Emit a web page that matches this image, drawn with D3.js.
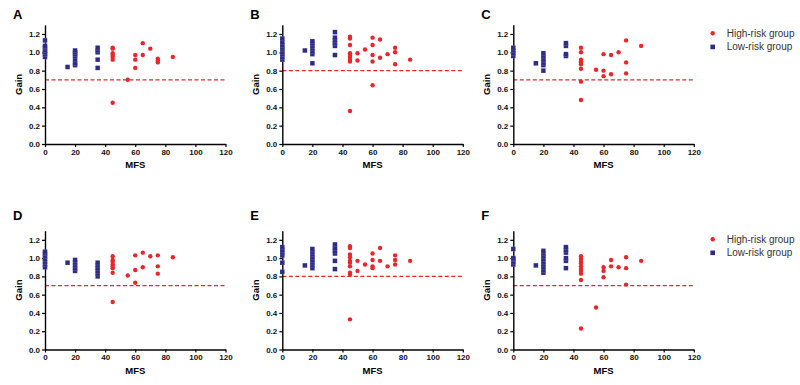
<!DOCTYPE html>
<html>
<head>
<meta charset="utf-8">
<script src="https://cdn.jsdelivr.net/npm/d3@7"></script>
<style>
  body { margin: 0; background: #fff; }
  text { font-family: "Liberation Sans", Arial, sans-serif; }
</style>
</head>
<body>
<div id="chart"></div>
<script>
// Panel letters and the dashed cut-off for each panel.
var panelNames = ["A", "B", "C", "D", "E", "F"];
var cutoffs = [0.7, 0.8, 0.7, 0.7, 0.8, 0.7];
var xTicks = [0, 20, 40, 60, 80, 100, 120];
var yTicks = [0, 0.2, 0.4, 0.6, 0.8, 1.0, 1.2];

// [MFS, Gain] pairs.
var lowA = [[0,0.95],[0,0.98],[0,1.0],[0,1.02],[0,1.05],[0,1.07],[0,1.13],[15,0.84],
  [20,0.86],[20,0.88],[20,0.92],[20,0.96],[20,0.98],[20,1.0],[20,1.02],
  [35,1.0],[35,1.02],[35,1.05],[35,0.92],[35,0.83]];
var highA = [[45,1.05],[45,1.04],[45,0.99],[45,0.97],[45,0.95],[45,0.92],[45,0.45],
  [55,0.70],[60,0.97],[60,0.92],[60,0.83],[65,1.10],[65,0.97],[70,1.04],
  [75,0.93],[75,0.91],[75,0.89],[85,0.95]];

var lowB = [[0,0.92],[0,0.95],[0,0.98],[0,1.0],[0,1.03],[0,1.05],[0,1.08],[0,1.11],[0,1.15],
  [15,1.02],[20,0.98],[20,1.01],[20,1.04],[20,1.07],[20,1.10],[20,1.12],[20,0.88],
  [35,1.07],[35,1.10],[35,1.13],[35,1.16],[35,1.22],[35,0.97]];
var highB = [[45,1.17],[45,1.15],[45,1.08],[45,0.99],[45,0.97],[45,0.95],[45,0.92],[45,0.90],[45,0.36],
  [50,0.99],[50,0.91],[55,1.03],[60,1.16],[60,1.08],[60,0.97],[60,0.90],[60,0.64],
  [65,1.14],[65,0.94],[70,0.98],[75,1.05],[75,1.00],[75,0.87],[85,0.92]];

var lowC = [[0,0.96],[0,0.99],[0,1.02],[0,1.05],[15,0.88],
  [20,0.86],[20,0.88],[20,0.91],[20,0.93],[20,0.96],[20,0.99],[20,0.80],
  [35,1.07],[35,1.10],[35,0.96],[35,0.98]];
var highC = [[45,1.05],[45,1.00],[45,0.92],[45,0.90],[45,0.89],[45,0.87],[45,0.82],[45,0.68],[45,0.48],
  [55,0.81],[60,0.98],[60,0.80],[60,0.74],[65,0.97],[65,0.76],[70,1.00],
  [75,1.13],[75,0.89],[75,0.77],[85,1.07]];

var lowD = [[0,0.90],[0,0.93],[0,0.96],[0,0.99],[0,1.02],[0,1.05],[0,1.07],[15,0.95],
  [20,0.86],[20,0.89],[20,0.92],[20,0.95],[20,0.98],
  [35,0.80],[35,0.83],[35,0.86],[35,0.89],[35,0.92],[35,0.95]];
var highD = [[45,1.02],[45,0.98],[45,0.96],[45,0.93],[45,0.91],[45,0.89],[45,0.84],[45,0.52],
  [55,0.81],[60,1.03],[60,0.87],[60,0.73],[65,1.06],[65,0.90],[70,1.02],
  [75,1.03],[75,0.91],[75,0.83],[85,1.01]];

var lowE = [[0,1.03],[0,1.06],[0,1.09],[0,1.12],[0,0.95],[0,0.85],[15,0.92],
  [20,0.89],[20,0.92],[20,0.95],[20,0.98],[20,1.01],[20,1.04],[20,1.07],[20,1.10],
  [35,1.05],[35,1.08],[35,1.11],[35,1.15],[35,0.97],[35,0.88]];
var highE = [[45,1.13],[45,1.11],[45,1.04],[45,1.01],[45,0.97],[45,0.95],[45,0.91],[45,0.84],[45,0.82],[45,0.33],
  [50,0.97],[50,0.86],[55,0.93],[60,1.05],[60,0.98],[60,0.91],[60,0.89],
  [65,1.11],[65,0.97],[70,0.91],[75,1.03],[75,0.98],[75,0.93],[85,0.97]];

var lowF = [[0,1.10],[0,0.93],[0,0.96],[0,0.99],[0,1.0],[15,0.92],
  [20,0.84],[20,0.87],[20,0.90],[20,0.93],[20,0.96],[20,0.99],[20,1.02],[20,1.05],[20,1.08],
  [35,1.06],[35,1.09],[35,1.12],[35,0.97],[35,1.00],[35,0.89]];
var highF = [[45,1.02],[45,0.99],[45,0.96],[45,0.94],[45,0.91],[45,0.88],[45,0.86],[45,0.83],[45,0.76],[45,0.23],
  [55,0.46],[60,0.90],[60,0.86],[60,0.79],[65,0.98],[65,0.91],[70,0.90],
  [75,1.01],[75,0.89],[75,0.71],[85,0.97]];

var lows = [lowA, lowB, lowC, lowD, lowE, lowF];
var highs = [highA, highB, highC, highD, highE, highF];

var width = 800, height = 385;
var red = "#e8262b", navy = "#2e2c84";

// Plot box for each panel: left edge, width, bottom (y=0), top (y=1.3).
var colLeft = [45, 282.3, 513.3];
var plotW = 180.5;
var rowBottom = [144, 349.5];
var rowTop = [24.8, 230.7];
var letterY = [19, 220];

var svg = d3.select("#chart").append("svg")
    .attr("width", width)
    .attr("height", height);

panelNames.forEach(function(name, i) {
  var col = i % 3, row = Math.floor(i / 3);
  var x = d3.scaleLinear().domain([0, 120]).range([colLeft[col], colLeft[col] + plotW]);
  var y = d3.scaleLinear().domain([0, 1.3]).range([rowBottom[row], rowTop[row]]);
  var g = svg.append("g");

  // panel letter
  g.append("text")
      .attr("x", colLeft[col] - 32)
      .attr("y", letterY[row])
      .attr("font-size", 13)
      .attr("font-weight", "bold")
      .text(name);

  // cut-off line
  g.append("line")
      .attr("x1", x(0)).attr("x2", x(120))
      .attr("y1", y(cutoffs[i])).attr("y2", y(cutoffs[i]))
      .attr("stroke", red)
      .attr("stroke-width", 1.2)
      .attr("stroke-dasharray", "4,2.5");

  // axes
  var xAxis = g.append("g")
      .attr("transform", "translate(0," + y(0) + ")")
      .call(d3.axisBottom(x).tickValues(xTicks).tickSize(3).tickSizeOuter(0).tickPadding(2));
  var yAxis = g.append("g")
      .attr("transform", "translate(" + x(0) + ",0)")
      .call(d3.axisLeft(y).tickValues(yTicks).tickSize(3).tickSizeOuter(0).tickPadding(2)
        .tickFormat(d3.format(".1f")));
  [xAxis, yAxis].forEach(function(a) {
    a.select(".domain").attr("stroke", "#000").attr("stroke-width", 1.4);
    a.selectAll(".tick line").attr("stroke", "#000").attr("stroke-width", 1.2);
    a.selectAll("text")
        .attr("font-family", "'Liberation Sans', Arial, sans-serif")
        .attr("font-size", 8)
        .attr("font-weight", "bold")
        .attr("fill", "#111");
  });

  // axis titles
  g.append("text")
      .attr("x", (x(0) + x(120)) / 2)
      .attr("y", y(0) + 24)
      .attr("text-anchor", "middle")
      .attr("font-size", 9.5)
      .attr("font-weight", "bold")
      .text("MFS");
  g.append("text")
      .attr("transform", "translate(" + (x(0) - 23) + "," + y(0.65) + ") rotate(-90)")
      .attr("text-anchor", "middle")
      .attr("font-size", 9.5)
      .attr("font-weight", "bold")
      .text("Gain");

  // low-risk squares (faint light edge so some stacked seams show)
  var s = 4.6;
  g.selectAll(".low")
      .data(lows[i])
      .enter().append("rect")
      .attr("x", function(d) { return x(d[0]) - s / 2; })
      .attr("y", function(d) { return y(d[1]) - s / 2; })
      .attr("width", s)
      .attr("height", s)
      .attr("fill", navy)
      .attr("stroke", "#fff")
      .attr("stroke-opacity", 0.4)
      .attr("stroke-width", 0.3);

  // high-risk dots
  g.selectAll(".high")
      .data(highs[i])
      .enter().append("circle")
      .attr("cx", function(d) { return x(d[0]); })
      .attr("cy", function(d) { return y(d[1]); })
      .attr("r", 2.2)
      .attr("fill", red);

  // legend on the right-hand panels
  if (col == 2) {
    var ly = rowTop[row] + 8.5;
    var lg = svg.append("g");
    lg.append("circle")
        .attr("cx", 712.7).attr("cy", ly).attr("r", 2.2).attr("fill", red);
    lg.append("rect")
        .attr("x", 712.7 - s / 2).attr("y", ly + 13.6 - s / 2)
        .attr("width", s).attr("height", s).attr("fill", navy);
    lg.append("text")
        .attr("x", 726.7).attr("y", ly + 3.5)
        .attr("font-size", 10).attr("fill", "#333")
        .text("High-risk group");
    lg.append("text")
        .attr("x", 726.7).attr("y", ly + 17.1)
        .attr("font-size", 10).attr("fill", "#333")
        .text("Low-risk group");
  }
});
</script>
</body>
</html>
